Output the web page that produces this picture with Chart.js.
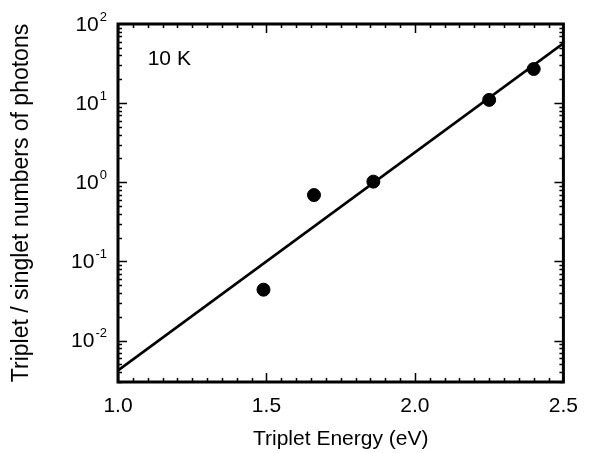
<!DOCTYPE html>
<html>
<head>
<meta charset="utf-8">
<title>Triplet / singlet photons vs triplet energy</title>
<script src="https://cdn.jsdelivr.net/npm/chart.js@4.4.1/dist/chart.umd.min.js"></script>
<style>
    html, body { margin: 0; padding: 0; background: #fff; }
    #wrap { width: 590px; height: 453px; }
</style>
</head>
<body>
<div id="wrap"><canvas id="chart" width="590" height="453"></canvas></div>
<script>
// Measured points (10 K)
const energies = [1.49, 1.66, 1.86, 2.25, 2.40];
const ratios = [0.044, 0.69, 1.02, 11.0, 27.0];

// Fitted line, end points
const fitEnergies = [1.0, 2.5];
const fitRatios = [0.0042, 57];

// Axis ticks
const xTickValues = [1.0, 1.5, 2.0, 2.5];
const yTickValues = [0.01, 0.1, 1, 10, 100];
const yTickExponents = ['-2', '-1', '0', '1', '2'];

const FONT = '"Liberation Sans", Arial, Helvetica, sans-serif';

// Draws the box frame with inward ticks, the power-of-ten labels and the temperature label
const frameTicks = {
    id: 'frameTicks',
    afterDatasetsDraw(chart) {
        const ctx = chart.ctx;
        const area = chart.chartArea;
        const xs = chart.scales.x;
        const ys = chart.scales.y;
        ctx.save();
        ctx.strokeStyle = '#000';
        ctx.lineCap = 'butt';

        // x ticks: major every 0.5, minor every 0.05
        ctx.lineWidth = 1.5;
        for (let i = 0; i <= 30; i++) {
            const v = 1.0 + i * 0.05;
            const px = Math.round(xs.getPixelForValue(v)) + 0.5;
            const len = (i % 10 === 0) ? 9 : 4;
            ctx.beginPath();
            ctx.moveTo(px, area.bottom);
            ctx.lineTo(px, area.bottom - len);
            ctx.moveTo(px, area.top);
            ctx.lineTo(px, area.top + len);
            ctx.stroke();
        }

        // y ticks: decades major, 2..9 minor
        for (let e = -3; e <= 1; e++) {
            for (let m = 1; m <= 9; m++) {
                const v = m * Math.pow(10, e);
                if (v < ys.min || v > ys.max) continue;
                const py = Math.round(ys.getPixelForValue(v)) + 0.5;
                const len = (m === 1) ? 9 : 4;
                ctx.beginPath();
                ctx.moveTo(area.left, py);
                ctx.lineTo(area.left + len, py);
                ctx.moveTo(area.right, py);
                ctx.lineTo(area.right - len, py);
                ctx.stroke();
            }
        }

        // frame
        ctx.lineWidth = 3;
        ctx.strokeRect(area.left, area.top, area.right - area.left, area.bottom - area.top);

        // y tick labels as 10 with a raised exponent
        ctx.fillStyle = '#000';
        ctx.textAlign = 'right';
        ctx.textBaseline = 'middle';
        yTickValues.forEach((v, i) => {
            const py = ys.getPixelForValue(v);
            const right = area.left - 11;
            ctx.font = '13px ' + FONT;
            const expWidth = ctx.measureText(yTickExponents[i]).width;
            ctx.fillText(yTickExponents[i], right, py - 7);
            ctx.font = '21px ' + FONT;
            ctx.fillText('10', right - expWidth - 1, py + 1);
        });

        // temperature label
        ctx.font = '21px ' + FONT;
        ctx.textAlign = 'left';
        ctx.fillText('10 K', xs.getPixelForValue(1.1), ys.getPixelForValue(36));
        ctx.restore();
    }
};

new Chart(document.getElementById('chart'), {
    type: 'scatter',
    data: {
        datasets: [
            {
                label: 'fit',
                type: 'line',
                data: fitEnergies.map((x, i) => ({ x: x, y: fitRatios[i] })),
                borderColor: '#000',
                borderWidth: 2.8,
                pointRadius: 0,
                fill: false
            },
            {
                label: '10 K',
                data: energies.map((x, i) => ({ x: x, y: ratios[i] })),
                backgroundColor: '#000',
                borderColor: '#000',
                pointRadius: 6.5,
                pointHoverRadius: 6.5
            }
        ]
    },
    options: {
        responsive: false,
        devicePixelRatio: 1,
        animation: false,
        layout: { padding: { top: 24, right: 18, left: 0, bottom: 0 } },
        plugins: {
            legend: { display: false },
            tooltip: { enabled: false }
        },
        scales: {
            x: {
                type: 'linear',
                min: 1.0,
                max: 2.5,
                grid: { display: false, drawTicks: false },
                border: { display: false },
                afterBuildTicks: (scale) => {
                    scale.ticks = xTickValues.map(v => ({ value: v }));
                },
                afterFit: (scale) => { scale.height = 71; },
                ticks: {
                    color: '#000',
                    padding: 12,
                    maxRotation: 0,
                    font: { family: FONT, size: 21 },
                    callback: (value) => Number(value).toFixed(1)
                },
                title: {
                    display: true,
                    text: 'Triplet Energy (eV)',
                    color: '#000',
                    font: { family: FONT, size: 21 },
                    padding: { top: 0, bottom: 1 }
                }
            },
            y: {
                type: 'logarithmic',
                min: 0.003,
                max: 100,
                grid: { display: false, drawTicks: false },
                border: { display: false },
                afterBuildTicks: (scale) => {
                    scale.ticks = yTickValues.map(v => ({ value: v, major: true }));
                },
                afterFit: (scale) => { scale.width = 118; },
                ticks: { display: false },
                title: {
                    display: true,
                    text: 'Triplet / singlet numbers of photons',
                    color: '#000',
                    font: { family: FONT, size: 23 },
                    padding: { top: 8, bottom: 0 }
                }
            }
        }
    },
    plugins: [frameTicks]
});
</script>
</body>
</html>
